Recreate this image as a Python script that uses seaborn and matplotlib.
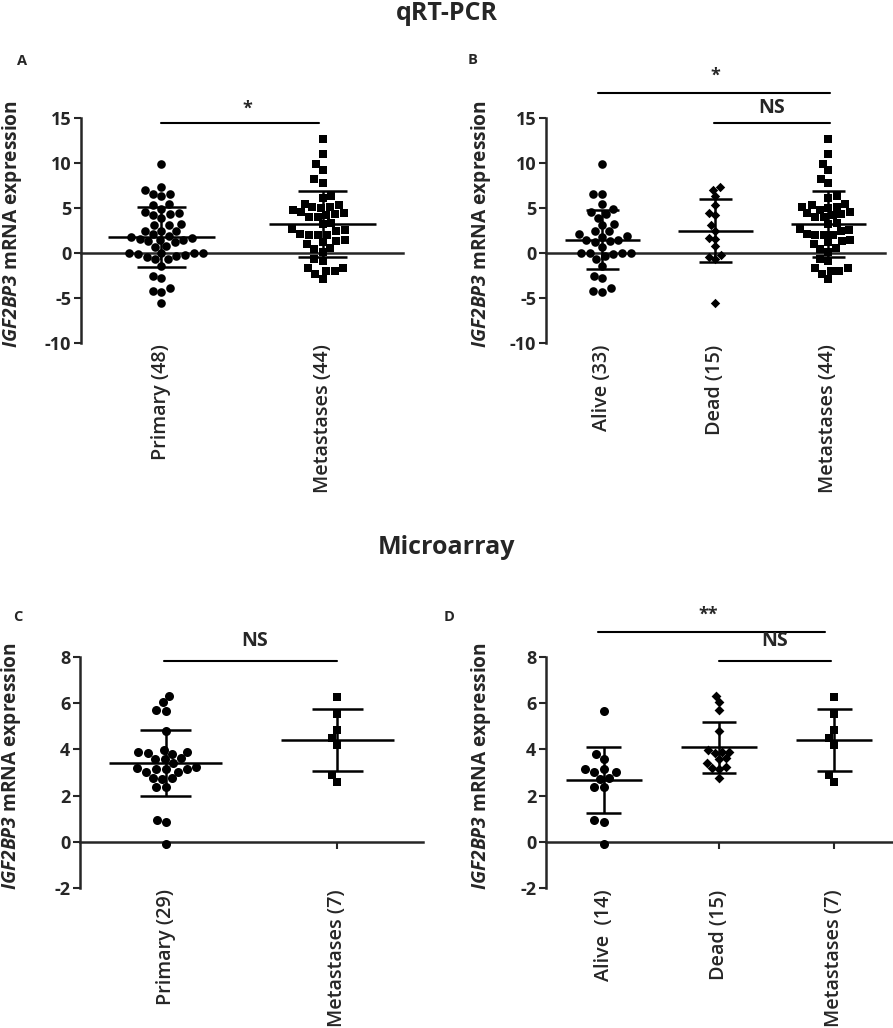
import pandas as pd
import matplotlib
matplotlib.use('Agg')
import matplotlib.pyplot as plt
import seaborn as sns

# qRT-PCR values
qpcr_alive = [9.9, 6.6, 6.6, 5.4, 4.9, 4.6, 4.3, 3.9, 3.2, 3.1, 2.4, 2.4, 2.1, 1.8, 1.9,
              1.5, 1.5, 1.2, 1.3, 0.7, -0.3, 0.0, 0.0, 0.0, 0.0, -0.1, -0.7, -1.4, -2.6,
              -2.8, -3.9, -4.3, -4.2]
qpcr_dead = [7.3, 7.0, 6.3, 5.3, 4.5, 4.2, 3.1, 2.5, 1.6, 1.7, 0.8, -0.4, -0.7, -0.2, -5.5]
qpcr_meta = [12.7, 11.0, 9.9, 9.2, 8.2, 7.8, 6.3, 6.1, 5.3, 5.1, 4.8, 4.0, 4.4, 4.2, 4.3,
             4.6, 5.0, 5.1, 5.5, 4.0, 3.3, 3.2, 2.7, 2.6, 2.4, 2.0, 2.0, 2.0, 2.1, 1.3,
             1.0, 1.2, 1.4, 0.6, 0.4, 0.1, -0.7, -0.9, -1.7, -2.0, -2.9, -2.3, -2.0, -1.7]
qpcr_primary = qpcr_alive + qpcr_dead

# Microarray values
micro_alive = [5.68, 3.82, 3.59, 3.17, 3.03, 3.03, 3.13, 2.72, 2.75, 2.36, 2.39, 0.94, 0.85, -0.09]
micro_dead = [6.33, 6.05, 5.70, 4.81, 3.89, 3.83, 3.99, 3.89, 3.59, 3.62, 3.39, 3.18, 3.13, 3.23, 2.74]
micro_meta = [6.28, 5.53, 4.83, 4.48, 4.18, 2.87, 2.58]
micro_primary = micro_alive + micro_dead

labels_a = ['Primary (48)', 'Metastases (44)']
labels_b = ['Alive (33)', 'Dead (15)', 'Metastases (44)']
labels_c = ['Primary (29)', 'Metastases (7)']
labels_d = ['Alive  (14)', 'Dead (15)', 'Metastases (7)']

sns.set_style('ticks')
plt.rcParams['font.family'] = ['Open Sans', 'DejaVu Sans']
plt.rcParams['mathtext.fontset'] = 'custom'
plt.rcParams['mathtext.it'] = 'Open Sans:italic:bold'
plt.rcParams['mathtext.rm'] = 'Open Sans:italic:bold'

fig = plt.figure(figsize=(8.93, 10.28), dpi=100)


def panel(rect, groups, labels, markers, sizes, ylim, yticks, lab_x):
    ax = fig.add_axes(rect)
    df = pd.DataFrame({'group': [l for l, g in zip(labels, groups) for _ in g],
                       'value': [v for g in groups for v in g]})
    for lab, m, s in zip(labels, markers, sizes):
        sns.swarmplot(data=df[df['group'] == lab], x='group', y='value', order=labels,
                      marker=m, size=s, color='black', linewidth=0, ax=ax)
    stats = df.groupby('group')['value'].agg(['mean', 'std']).reindex(labels)
    for i, (mu, sd) in enumerate(zip(stats['mean'], stats['std'])):
        ax.hlines(mu, i - 0.33, i + 0.33, color='black', lw=1.8, zorder=5)
        ax.vlines(i, mu - sd, mu + sd, color='black', lw=1.8, zorder=5)
        ax.hlines([mu - sd, mu + sd], i - 0.15, i + 0.15, color='black', lw=1.8, zorder=5)

    ax.set_xlim(-0.5, len(labels) - 0.5)
    ax.set_ylim(*ylim)
    ax.set_yticks(yticks)
    ax.set_yticklabels([str(t) for t in yticks], fontsize=13, fontweight='bold')
    ax.set_xticks(range(len(labels)))
    ax.set_xticklabels(labels, rotation=90, fontsize=14.2, fontweight='semibold', va='top')
    ax.tick_params(axis='x', length=0, pad=1)
    ax.tick_params(axis='y', length=5, width=1.5, pad=2)
    ax.set_xlabel('')
    ax.set_ylabel(r'$\it{IGF2BP3}$ mRNA expression', fontsize=13.8, fontweight='bold')
    ax.yaxis.set_label_coords(lab_x, 0.53)
    sns.despine(ax=ax, bottom=True)
    ax.spines['left'].set_linewidth(1.8)

    # x axis line drawn at y = 0
    zero = (0 - ylim[0]) / (ylim[1] - ylim[0])
    sec = ax.secondary_xaxis(zero)
    sec.set_xticks(range(len(labels)))
    sec.set_xticklabels([''] * len(labels))
    sec.tick_params(length=5, width=1.5)
    sec.spines['bottom'].set_linewidth(1.8)
    return ax


def sig(ax, x1, x2, y, text, tx, ty, size=14):
    ax.plot([x1, x2], [y, y], color='black', lw=1.5, clip_on=False)
    ax.text(tx, ty, text, ha='center', va='center', fontsize=size, fontweight='bold')


ax_a = panel([0.0907, 0.6663, 0.3606, 0.2189], [qpcr_primary, qpcr_meta], labels_a,
             ['o', 's'], [6.2, 6.2], (-10, 15), [-10, -5, 0, 5, 10, 15], -0.177)
sig(ax_a, 0.0, 0.98, 14.5, '*', 0.53, 16.0, 13)

ax_b = panel([0.6114, 0.6663, 0.3796, 0.2189], [qpcr_alive, qpcr_dead, qpcr_meta], labels_b,
             ['o', 'D', 's'], [6.2, 4.8, 6.0], (-10, 15), [-10, -5, 0, 5, 10, 15], -0.156)
sig(ax_b, -0.04, 2.01, 17.8, '*', 1.0, 19.7, 13)
sig(ax_b, 0.99, 2.01, 14.5, 'NS', 1.5, 16.1)

ax_c = panel([0.0896, 0.1362, 0.3841, 0.2247], [micro_primary, micro_meta], labels_c,
             ['o', 's'], [6.5, 6.2], (-2, 8), [-2, 0, 2, 4, 6, 8], -0.166)
sig(ax_c, -0.01, 1.0, 7.84, 'NS', 0.52, 8.7)

ax_d = panel([0.6114, 0.1362, 0.3875, 0.2247], [micro_alive, micro_dead, micro_meta], labels_d,
             ['o', 'D', 's'], [6.5, 5.0, 6.2], (-2, 8), [-2, 0, 2, 4, 6, 8], -0.153)
sig(ax_d, -0.05, 1.92, 9.08, '**', 0.91, 9.85, 13)
sig(ax_d, 1.0, 1.97, 7.84, 'NS', 1.48, 8.7)

fig.text(0.5, 1 - 14 / 1028, 'qRT-PCR', ha='center', va='center', fontsize=18, fontweight='bold')
fig.text(0.5, 1 - 547 / 1028, 'Microarray', ha='center', va='center', fontsize=18, fontweight='bold')
for letter, x, y in [('A', 22, 61), ('B', 473, 60), ('C', 18, 617), ('D', 449, 617)]:
    fig.text(x / 893, 1 - y / 1028, letter, ha='center', va='center', fontsize=10.5, fontweight='bold')

fig.savefig('out.png', dpi=100)
